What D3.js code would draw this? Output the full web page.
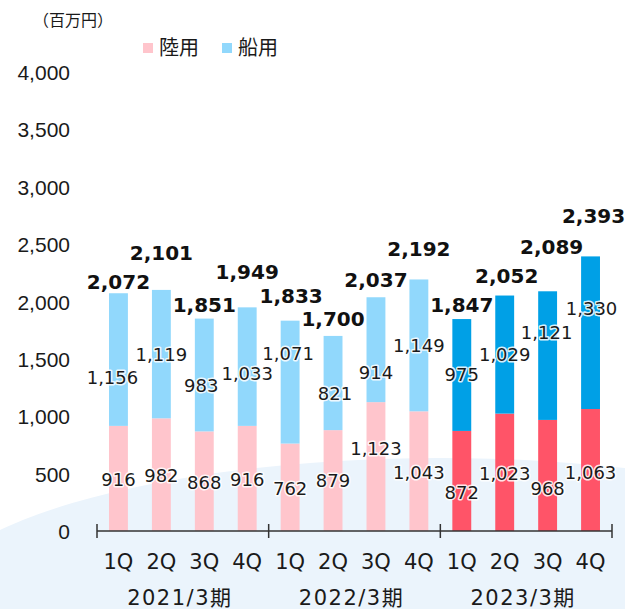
<!DOCTYPE html>
<html>
<head>
<meta charset="utf-8">
<script src="https://cdn.jsdelivr.net/npm/d3@7"></script>
<style>
  body { margin: 0; background: #fff; }
  svg { display: block; font-family: "DejaVu Sans", "Noto Sans CJK JP", sans-serif; }
</style>
</head>
<body>
<svg id="chart" width="625" height="609"></svg>
<script>
// data
const quarters = ["1Q", "2Q", "3Q", "4Q"];
const fiscalYears = ["2021/3期", "2022/3期", "2023/3期"];
const landValues = [916, 982, 868, 916, 762, 879, 1123, 1043, 872, 1023, 968, 1063];
const marineValues = [1156, 1119, 983, 1033, 1071, 821, 914, 1149, 975, 1029, 1121, 1330];
const yTicks = [0, 500, 1000, 1500, 2000, 2500, 3000, 3500, 4000];
const seriesNames = ["陸用", "船用"];

// label nudges (px)
const landLabelDy = [1, 1, 1, 1, 1, 0, -18, 1, 12, 1, 13, 2];
const marineLabelDy = [18, 0, 11, 7, -29, 10, 23, 0, 0, 0, -23, -24];
const marineLabelDx = [-6, 0, -3, 0, -2, 2, 0, 0, 0, 0, -1, 1];
const totalLabelGap = [11, 37, 14, 35, 25, 17, 17, 30, 14, 20, 44, 40];
const totalLabelDx = [0, 0, 0, 0, 1, 0, 0, 0, 0, 2, 4, 3];

const colLand = "#FFC5CC", colMarine = "#91D8FC";
const colLand23 = "#FF5468", colMarine23 = "#00A0E6";

const svg = d3.select("#chart");
const fmt = d3.format(",");

// 1. background wave
svg.append("ellipse")
  .attr("cx", 440).attr("cy", 612)
  .attr("rx", 520).attr("ry", 154)
  .attr("fill", "#EBF4FC");

// 2. scales
const cats = d3.range(12);
const x = d3.scaleBand().domain(cats).range([97, 612]).paddingInner(0.56).paddingOuter(0.28);
const y = d3.scaleLinear().domain([0, 4000]).range([531, 72]);
const yearX = d3.scaleBand().domain(fiscalYears).range([97, 612]);

const rows = cats.map(i => ({
  i,
  land: landValues[i],
  marine: marineValues[i],
  total: landValues[i] + marineValues[i],
  dark: i >= 8
}));

// 3. y axis labels
const yAxis = d3.axisLeft(y).tickValues(yTicks).tickFormat(fmt).tickSize(0).tickPadding(0);
const gy = svg.append("g").attr("transform", "translate(70,0)").call(yAxis);
gy.select(".domain").remove();
gy.selectAll("text").attr("font-size", 21).attr("fill", "#1a1a1a")
  .attr("font-family", null).attr("dy", "0.36em");

// 4. bars
const bars = svg.append("g");
bars.selectAll(".land").data(rows).join("rect")
  .attr("x", d => x(d.i)).attr("width", x.bandwidth())
  .attr("y", d => y(d.land)).attr("height", d => y(0) - y(d.land))
  .attr("fill", d => d.dark ? colLand23 : colLand);
bars.selectAll(".marine").data(rows).join("rect")
  .attr("x", d => x(d.i)).attr("width", x.bandwidth())
  .attr("y", d => y(d.total)).attr("height", d => y(d.land) - y(d.total))
  .attr("fill", d => d.dark ? colMarine23 : colMarine);

// 5. x axis line with group ticks
const ax = svg.append("g").attr("stroke", "#333").attr("stroke-width", 1.5);
ax.append("line").attr("x1", 97).attr("x2", 612).attr("y1", 531).attr("y2", 531);
[...fiscalYears.map(f => yearX(f)), 612].forEach(px => {
  ax.append("line").attr("x1", px).attr("x2", px).attr("y1", 524).attr("y2", 538);
});

// category labels
svg.append("g").selectAll("text").data(rows).join("text")
  .attr("x", d => x(d.i) + x.bandwidth() / 2).attr("y", 562)
  .attr("text-anchor", "middle").attr("dominant-baseline", "central")
  .attr("font-size", 21).attr("fill", "#1a1a1a")
  .text(d => quarters[d.i % 4]);
svg.append("g").selectAll("text").data(fiscalYears).join("text")
  .attr("x", d => yearX(d) + yearX.bandwidth() / 2 - 3).attr("y", 598)
  .attr("text-anchor", "middle").attr("dominant-baseline", "central")
  .attr("font-size", 21).attr("letter-spacing", 1.5).attr("fill", "#1a1a1a")
  .text(d => d);

// 6. value labels
const cx = d => x(d.i) + x.bandwidth() / 2;
const halo = sel => sel.attr("stroke", "#fff").attr("stroke-width", 3)
  .attr("stroke-opacity", 0.85).attr("paint-order", "stroke").attr("stroke-linejoin", "round");

svg.append("g").selectAll("text").data(rows).join("text")
  .attr("x", cx)
  .attr("y", d => (y(0) + y(d.land)) / 2 + landLabelDy[d.i])
  .attr("text-anchor", "middle").attr("dominant-baseline", "central")
  .attr("font-size", 18).attr("fill", "#1a1a1a")
  .call(halo)
  .text(d => fmt(d.land));

svg.append("g").selectAll("text").data(rows).join("text")
  .attr("x", d => cx(d) + marineLabelDx[d.i])
  .attr("y", d => (y(d.land) + y(d.total)) / 2 + marineLabelDy[d.i])
  .attr("text-anchor", "middle").attr("dominant-baseline", "central")
  .attr("font-size", 18).attr("fill", "#1a1a1a")
  .call(halo)
  .text(d => fmt(d.marine));

svg.append("g").selectAll("text").data(rows).join("text")
  .attr("x", d => cx(d) + totalLabelDx[d.i])
  .attr("y", d => y(d.total) - totalLabelGap[d.i])
  .attr("text-anchor", "middle").attr("dominant-baseline", "central")
  .attr("font-size", 20).attr("font-weight", "bold").attr("fill", "#111")
  .text(d => fmt(d.total));

// 7. unit + legend
svg.append("text").attr("x", 33).attr("y", 20)
  .attr("dominant-baseline", "central").attr("font-size", 16).attr("fill", "#1a1a1a")
  .text("（百万円）");

const legend = svg.append("g");
const legendX = [143, 222];
seriesNames.forEach((name, k) => {
  legend.append("rect").attr("x", legendX[k]).attr("y", 43).attr("width", 10).attr("height", 10)
    .attr("fill", k === 0 ? colLand : colMarine);
  legend.append("text").attr("x", legendX[k] + 16).attr("y", 48)
    .attr("dominant-baseline", "central").attr("font-size", 20).attr("fill", "#1a1a1a")
    .text(name);
});
</script>
</body>
</html>
